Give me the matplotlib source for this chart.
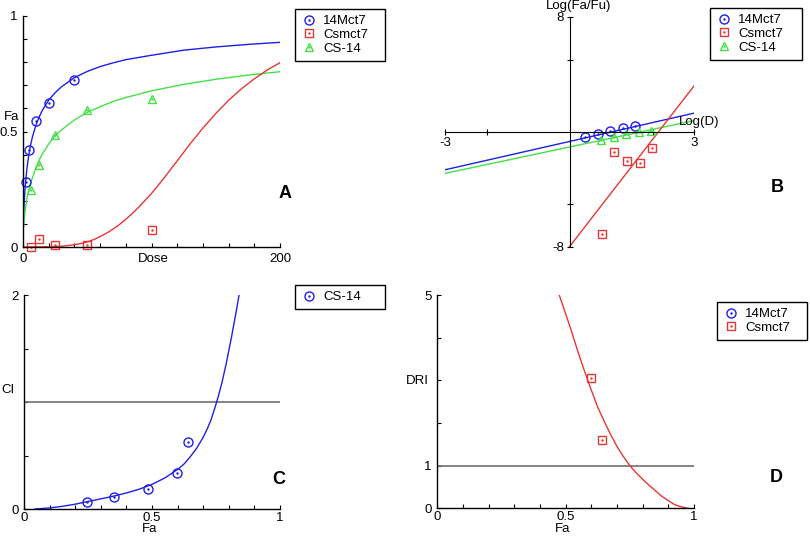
import numpy as np
import matplotlib
matplotlib.use('Agg')
import matplotlib.pyplot as plt
from matplotlib.lines import Line2D

plt.rcParams['font.family'] = ['Liberation Sans', 'DejaVu Sans']
plt.rcParams['font.size'] = 9.5

BLUE = '#1f1fe6'
RED = '#e63636'
GREEN = '#45e045'
GRAY = '#707070'

# --- A: dose-effect curves ---
dose_14mct7 = [2.5, 5, 10, 20, 40]
fa_14mct7 = [0.28, 0.42, 0.545, 0.622, 0.723]
dose_cs14 = [6.25, 12.5, 25, 50, 100]
fa_cs14 = [0.245, 0.356, 0.483, 0.594, 0.641]
dose_csmct7 = [6.25, 12.5, 25, 50, 100]
fa_csmct7 = [0.0, 0.036, 0.007, 0.007, 0.072]

curve_dose = [0.5, 0.75, 1, 1.5, 2, 3, 4, 5, 6, 7.5, 10, 12.5, 15, 20, 25, 30, 40, 50,
              60, 70, 80, 100, 125, 150, 175, 200]
curve_fa_14mct7 = [0.137, 0.171, 0.199, 0.245, 0.281, 0.337, 0.380, 0.415, 0.444, 0.480,
                   0.526, 0.562, 0.591, 0.636, 0.668, 0.694, 0.733, 0.760, 0.781, 0.797,
                   0.811, 0.830, 0.852, 0.866, 0.877, 0.886]
curve_fa_cs14 = [0.086, 0.106, 0.123, 0.151, 0.172, 0.208, 0.235, 0.255, 0.278, 0.302,
                 0.342, 0.375, 0.402, 0.446, 0.482, 0.507, 0.550, 0.583, 0.607, 0.630,
                 0.647, 0.676, 0.704, 0.726, 0.744, 0.759]
curve_dose_csmct7 = [0, 20, 30, 40, 45, 50, 55, 60, 65, 70, 75, 80, 85, 90, 100, 110, 120,
                     130, 140, 150, 160, 170, 180, 190, 200]
curve_fa_csmct7 = [0, 0.001, 0.003, 0.01, 0.015, 0.022, 0.032, 0.045, 0.06, 0.077, 0.097,
                   0.12, 0.145, 0.172, 0.232, 0.30, 0.373, 0.446, 0.515, 0.578, 0.635,
                   0.685, 0.728, 0.766, 0.798]

# --- B: median-effect plot ---
logd_14mct7 = [0.38, 0.68, 0.98, 1.28, 1.58]
logr_14mct7 = [-0.39, -0.16, 0.05, 0.23, 0.42]
logd_cs14 = [0.76, 1.07, 1.37, 1.67, 1.97]
logr_cs14 = [-0.58, -0.39, -0.18, 0.0, 0.07]
logd_csmct7 = [0.79, 1.08, 1.39, 1.69, 1.99]
logr_csmct7 = [-7.1, -1.43, -2.04, -2.2, -1.16]
line_x = [-3, 3]
line_14mct7 = [-2.65, 1.29]
line_cs14 = [-2.9, 0.77]
line_x_csmct7 = [0, 3]
line_csmct7 = [-8.0, 3.18]

# --- C: combination index ---
ci_fa = [0.245, 0.353, 0.483, 0.596, 0.639]
ci_val = [0.068, 0.115, 0.187, 0.333, 0.629]
ci_curve_fa = [0.043, 0.10, 0.15, 0.20, 0.25, 0.30, 0.35, 0.40, 0.45, 0.50, 0.55, 0.60,
               0.625, 0.65, 0.675, 0.70, 0.715, 0.73, 0.745, 0.76, 0.775, 0.79, 0.80,
               0.81, 0.82, 0.83, 0.84]
ci_curve = [0, 0.01, 0.025, 0.045, 0.07, 0.095, 0.12, 0.15, 0.185, 0.23, 0.29, 0.37,
            0.42, 0.49, 0.57, 0.67, 0.745, 0.83, 0.94, 1.06, 1.20, 1.36, 1.48, 1.60,
            1.73, 1.86, 2.0]

# --- D: dose reduction index ---
dri_fa = [0.599, 0.643]
dri_val = [3.06, 1.60]
dri_curve_fa = [0.475, 0.50, 0.525, 0.55, 0.575, 0.60, 0.625, 0.65, 0.675, 0.70, 0.725,
                0.75, 0.775, 0.80, 0.825, 0.85, 0.875, 0.90, 0.925, 0.95, 0.978]
dri_curve = [5.0, 4.56, 4.11, 3.63, 3.19, 2.77, 2.37, 2.04, 1.73, 1.45, 1.21, 1.0, 0.83,
             0.68, 0.54, 0.41, 0.28, 0.18, 0.085, 0.034, 0.0]

fig = plt.figure(figsize=(8.1, 5.4), dpi=100)


def pts(ax, x, y, marker, color, ms):
    ax.plot(x, y, ls='none', marker=marker, mfc='none', mec=color, ms=ms, mew=1.0, clip_on=False)
    ax.plot(x, y, ls='none', marker='.', color=color, ms=1.5, clip_on=False)


def style(ax):
    for s in ['top', 'right']:
        ax.spines[s].set_visible(False)
    for s in ['left', 'bottom']:
        ax.spines[s].set_linewidth(1.0)
    ax.tick_params(direction='in', length=3, width=0.8, pad=4)


def handle(marker, color, ms):
    ring = Line2D([], [], ls='none', marker=marker, mfc='none', mec=color, ms=ms, mew=1.0)
    dot = Line2D([], [], ls='none', marker='.', color=color, ms=1.5)
    return (ring, dot)


def legend(ax, names, handles, x, y, w):
    # box in pixel terms: left x, top y, width w
    leg = ax.legend(handles, names, loc='upper left', mode='expand',
                    bbox_to_anchor=(x / 810, 1 - (y + 80) / 540, w / 810, 80 / 540),
                    bbox_transform=fig.transFigure, fancybox=False, edgecolor='black',
                    framealpha=1, fontsize=9.5, borderpad=0.45, labelspacing=0.12,
                    handlelength=1.2, handletextpad=0.5, borderaxespad=0)
    leg.get_frame().set_linewidth(1.0)


h_blue = handle('o', BLUE, 6.5)
h_red = handle('s', RED, 6)
h_green = handle('^', GREEN, 6)

# A
axA = fig.add_axes([23 / 810, 1 - 247 / 540, 257 / 810, 231 / 540])
style(axA)
axA.plot(curve_dose, curve_fa_14mct7, color=BLUE, lw=1.0)
axA.plot(curve_dose, curve_fa_cs14, color=GREEN, lw=1.0)
axA.plot(curve_dose_csmct7, curve_fa_csmct7, color=RED, lw=1.0)
pts(axA, dose_14mct7, fa_14mct7, 'o', BLUE, 6.5)
pts(axA, dose_cs14, fa_cs14, '^', GREEN, 6)
pts(axA, dose_csmct7, fa_csmct7, 's', RED, 6)
axA.set_xlim(0, 200)
axA.set_ylim(0, 1)
axA.set_xticks(np.arange(0, 201, 20), ['0'] + [''] * 9 + ['200'])
axA.set_yticks(np.arange(0, 1.01, 0.1), ['0', '', '', '', '', '0.5', '', '', '', '', '1'])
legend(axA, ['14Mct7', 'Csmct7', 'CS-14'], [h_blue, h_red, h_green], 295, 9, 90)
fig.text(12 / 810, 1 - 117 / 540, 'Fa', ha='center', va='center')
fig.text(153 / 810, 1 - 259 / 540, 'Dose', ha='center', va='center')
fig.text(285 / 810, 1 - 193 / 540, 'A', ha='center', va='center', fontsize=13, fontweight='bold')

# B
axB = fig.add_axes([445 / 810, 1 - 246.7 / 540, 249 / 810, 230 / 540])
for s in ['top', 'right']:
    axB.spines[s].set_visible(False)
axB.spines['left'].set_position(('data', 0))
axB.spines['bottom'].set_position(('data', 0))
axB.plot(line_x, line_14mct7, color=BLUE, lw=1.0)
axB.plot(line_x, line_cs14, color=GREEN, lw=1.0)
axB.plot(line_x_csmct7, line_csmct7, color=RED, lw=1.0)
pts(axB, logd_14mct7, logr_14mct7, 'o', BLUE, 6.5)
pts(axB, logd_cs14, logr_cs14, '^', GREEN, 6)
pts(axB, logd_csmct7, logr_csmct7, 's', RED, 6)
axB.set_xlim(-3, 3)
axB.set_ylim(-8, 8)
axB.set_xticks([-3, -2, 2, 3], ['-3', '', '', '3'])
axB.set_yticks([-8, -5, 5, 8], ['-8', '', '', '8'])
axB.tick_params(direction='inout', length=4, width=0.8, pad=2)
legend(axB, ['14Mct7', 'Csmct7', 'CS-14'], [h_blue, h_red, h_green], 710, 8, 92)
fig.text(579 / 810, 1 - 6 / 540, 'Log(Fa/Fu)', ha='center', va='center')
fig.text(699 / 810, 1 - 122 / 540, 'Log(D)', ha='center', va='center')
fig.text(777 / 810, 1 - 188 / 540, 'B', ha='center', va='center', fontsize=13, fontweight='bold')

# C
axC = fig.add_axes([24 / 810, 1 - 509 / 540, 256 / 810, 214 / 540])
style(axC)
axC.axhline(1, color=GRAY, lw=1.2)
axC.plot(ci_curve_fa, ci_curve, color=BLUE, lw=1.0)
pts(axC, ci_fa, ci_val, 'o', BLUE, 6.5)
axC.set_xlim(0, 1)
axC.set_ylim(0, 2)
axC.set_xticks(np.arange(0, 1.01, 0.1), ['0', '', '', '', '', '0.5', '', '', '', '', '1'])
axC.set_yticks([0, 0.5, 1, 1.5, 2], ['0', '', '', '', '2'])
axC.tick_params(axis='x', pad=2)
legend(axC, ['CS-14'], [h_blue], 295, 285, 90)
fig.text(8 / 810, 1 - 390 / 540, 'CI', ha='center', va='center')
fig.text(150 / 810, 1 - 529 / 540, 'Fa', ha='center', va='center')
fig.text(279 / 810, 1 - 479 / 540, 'C', ha='center', va='center', fontsize=13, fontweight='bold')

# D
axD = fig.add_axes([437.3 / 810, 1 - 508.3 / 540, 256.7 / 810, 213.3 / 540])
style(axD)
axD.axhline(1, color=GRAY, lw=1.2)
axD.plot(dri_curve_fa, dri_curve, color=RED, lw=1.0)
pts(axD, dri_fa, dri_val, 's', RED, 6)
axD.set_xlim(0, 1)
axD.set_ylim(0, 5)
axD.set_xticks(np.arange(0, 1.01, 0.1), ['0', '', '', '', '', '0.5', '', '', '', '', '1'])
axD.set_yticks([0, 1, 2, 3, 4, 5], ['0', '1', '', '', '', '5'])
axD.tick_params(axis='x', pad=2)
legend(axD, ['14Mct7', 'Csmct7'], [h_blue, h_red], 717, 302, 90)
fig.text(417 / 810, 1 - 381 / 540, 'DRI', ha='center', va='center')
fig.text(563 / 810, 1 - 529 / 540, 'Fa', ha='center', va='center')
fig.text(776 / 810, 1 - 477 / 540, 'D', ha='center', va='center', fontsize=13, fontweight='bold')

fig.savefig('out.png', dpi=100)
